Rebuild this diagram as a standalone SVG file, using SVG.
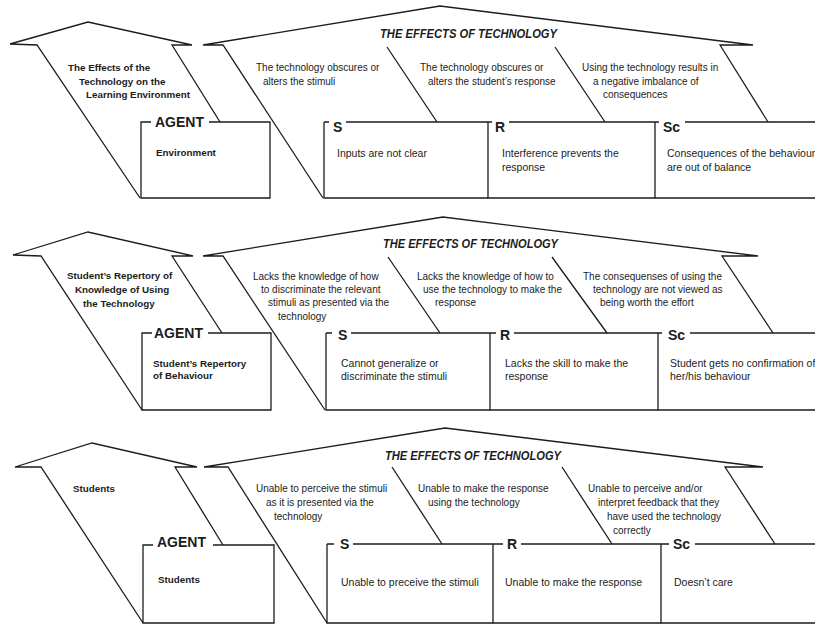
<svg xmlns="http://www.w3.org/2000/svg" width="815" height="624" viewBox="0 0 815 624">
<style>
.ln{fill:none;stroke:#1c1c1c;stroke-width:1.3;stroke-linejoin:miter}
.t{font-family:"Liberation Sans",Arial,sans-serif;font-size:10px;fill:#1c1c1c}
.b{font-weight:bold;font-size:9.8px}
.ttl{font-weight:bold;font-style:italic;font-size:13.5px}
.ag{font-weight:bold;font-size:14px}
.lab{font-weight:bold;font-size:14px}
.bx{font-size:10.5px}
</style>
<rect width="815" height="624" fill="#fff"/>

<!-- PANEL 1 -->
<g id="panel1">
  <g id="p1-agent-arrow">
    <path class="ln" d="M140,198 L37,45 L10,44 L88,22 L192,45 L172,45 L220,122"/>
    <text class="t b" x="68" y="70.5">The Effects of the</text>
    <text class="t b" x="79" y="84.5">Technology on the</text>
    <text class="t b" x="86" y="97.5">Learning Environment</text>
  </g>
  <g id="p1-agent">
    <path class="ln" d="M151,122 H141 V198 H270 V122 H209"/>
    <text class="t ag" x="155" y="127">AGENT</text>
    <text class="t b" x="156" y="155.5">Environment</text>
  </g>
  <g id="p1-effects-arrow">
    <path class="ln" d="M323,198 L223,45 L203,45 L440,6 L753,45 L720,45 L768,122"/>
    <text class="t ttl" x="380" y="38" textLength="177" lengthAdjust="spacingAndGlyphs">THE EFFECTS OF TECHNOLOGY</text>
    <text class="t" x="256" y="71">The technology obscures or</text>
    <text class="t" x="263" y="84.5">alters the stimuli</text>
    <text class="t" x="420" y="71">The technology obscures or</text>
    <text class="t" x="428" y="84.5">alters the student’s response</text>
    <text class="t" x="582" y="71">Using the technology results in</text>
    <text class="t" x="593" y="84.5">a negative imbalance of</text>
    <text class="t" x="603" y="97.5">consequences</text>
  </g>
  <g id="p1-S">
    <path class="ln" d="M324,122 V198 H488 M324,122 H329 M346,122 H492"/>
    <text class="t lab" x="333" y="132">S</text>
    <text class="t bx" x="337" y="156.5">Inputs are not clear</text>
  </g>
  <g id="p1-R">
    <path class="ln" d="M488,122 V198 H655 M509,122 H659"/>
    <text class="t lab" x="495" y="132">R</text>
    <text class="t bx" x="502" y="156.5">Interference prevents the</text>
    <text class="t bx" x="502" y="170.5">response</text>
  </g>
  <g id="p1-Sc">
    <path class="ln" d="M655,122 V198 H815 M685,122 H815"/>
    <text class="t lab" x="663" y="132">Sc</text>
    <text class="t bx" x="667" y="156.5">Consequences of the behaviour</text>
    <text class="t bx" x="667" y="170.5">are out of balance</text>
  </g>
</g>

<!-- PANEL 2 -->
<g id="panel2">
  <g id="p2-agent-arrow">
    <path class="ln" d="M142,410 L41,256 L13,255 L88,232 L193,256 L172,256 L222,333"/>
    <text class="t b" x="67" y="278.5">Student’s Repertory of</text>
    <text class="t b" x="75" y="292.5">Knowledge of Using</text>
    <text class="t b" x="83" y="306.5">the Technology</text>
  </g>
  <g id="p2-agent">
    <path class="ln" d="M152,333 H142 V410 H271 V333 H208"/>
    <text class="t ag" x="154" y="338">AGENT</text>
    <text class="t b" x="153" y="366.5">Student’s Repertory</text>
    <text class="t b" x="153" y="378.5">of Behaviour</text>
  </g>
  <g id="p2-effects-arrow">
    <path class="ln" d="M325,410 L223,256 L203,256 L443,217 L758,256 L722,256 L773,333"/>
    <text class="t ttl" x="383" y="248" textLength="175" lengthAdjust="spacingAndGlyphs">THE EFFECTS OF TECHNOLOGY</text>
    <text class="t" x="253" y="279.5">Lacks the knowledge of how</text>
    <text class="t" x="261" y="292.5">to discriminate the relevant</text>
    <text class="t" x="268" y="306">stimuli as presented via the</text>
    <text class="t" x="278" y="319.5">technology</text>
    <text class="t" x="417" y="279.5">Lacks the knowledge of how to</text>
    <text class="t" x="423" y="292.5">use the technology to make the</text>
    <text class="t" x="435" y="306">response</text>
    <text class="t" x="583" y="279.5">The consequenses of using the</text>
    <text class="t" x="593" y="292.5">technology are not viewed as</text>
    <text class="t" x="600" y="306">being worth the effort</text>
  </g>
  <g id="p2-S">
    <path class="ln" d="M326,333 V410 H490 M326,333 H332 M351,333 H496"/>
    <text class="t lab" x="338" y="340">S</text>
    <text class="t bx" x="341" y="366.5">Cannot generalize or</text>
    <text class="t bx" x="341" y="379.5">discriminate the stimuli</text>
  </g>
  <g id="p2-R">
    <path class="ln" d="M490,333 V410 H658 M514,333 H662"/>
    <text class="t lab" x="500" y="340">R</text>
    <text class="t bx" x="505" y="366.5">Lacks the skill to make the</text>
    <text class="t bx" x="505" y="379.5">response</text>
  </g>
  <g id="p2-Sc">
    <path class="ln" d="M658,333 V410 H815 M690,333 H815"/>
    <text class="t lab" x="668" y="340">Sc</text>
    <text class="t bx" x="670" y="366.5">Student gets no confirmation of</text>
    <text class="t bx" x="670" y="379.5">her/his behaviour</text>
  </g>
</g>

<!-- PANEL 3 -->
<g id="panel3">
  <g id="p3-agent-arrow">
    <path class="ln" d="M143,623 L41,467 L15,467 L92,443 L197,467 L175,467 L223,545"/>
    <text class="t b" x="73" y="491.5">Students</text>
  </g>
  <g id="p3-agent">
    <path class="ln" d="M153,545 H143 V623 H274 V545 H213"/>
    <text class="t ag" x="157" y="547">AGENT</text>
    <text class="t b" x="158" y="582.5">Students</text>
  </g>
  <g id="p3-effects-arrow">
    <path class="ln" d="M327,623 L228,467 L204,467 L445,428 L763,467 L725,467 L775,544"/>
    <text class="t ttl" x="385" y="460" textLength="176" lengthAdjust="spacingAndGlyphs">THE EFFECTS OF TECHNOLOGY</text>
    <text class="t" x="256" y="491.5">Unable to perceive the stimuli</text>
    <text class="t" x="266" y="505.5">as it is presented via the</text>
    <text class="t" x="274" y="519.5">technology</text>
    <text class="t" x="418" y="491.5">Unable to make the response</text>
    <text class="t" x="428" y="505.5">using the technology</text>
    <text class="t" x="588" y="491.5">Unable to perceive and/or</text>
    <text class="t" x="598" y="505.5">interpret feedback that they</text>
    <text class="t" x="607" y="519.5">have used the technology</text>
    <text class="t" x="613" y="533.5">correctly</text>
  </g>
  <g id="p3-S">
    <path class="ln" d="M327,544 V623 H493 M327,544 H334 M353,544 H503"/>
    <text class="t lab" x="340" y="549">S</text>
    <text class="t bx" x="341" y="585.5">Unable to preceive the stimuli</text>
  </g>
  <g id="p3-R">
    <path class="ln" d="M493,544 V623 H661 M521,544 H669"/>
    <text class="t lab" x="507" y="549">R</text>
    <text class="t bx" x="505" y="585.5">Unable to make the response</text>
  </g>
  <g id="p3-Sc">
    <path class="ln" d="M661,544 V623 H815 M695,544 H815"/>
    <text class="t lab" x="673" y="549">Sc</text>
    <text class="t bx" x="674" y="585.5">Doesn’t care</text>
  </g>
</g>

<!-- connectors: inner diagonal strokes from the effects arrow to the boxes -->
<g id="connectors">
  <path class="ln" d="M387,47 L437,122 M555,47 L605,122"/>
  <path class="ln" d="M388,257 L440,333 M552,257 L607,333"/>
  <path class="ln" d="M392,467 L442,544 M562,467 L612,544"/>
</g>
</svg>
